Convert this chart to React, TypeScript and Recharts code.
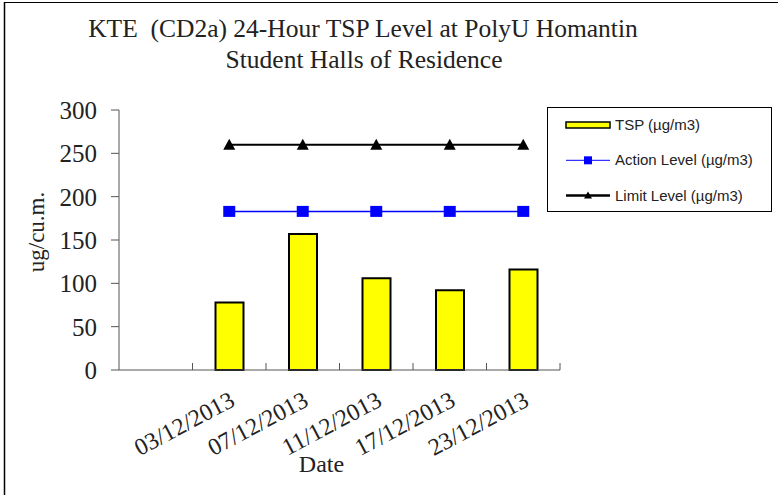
import { Bar, ComposedChart, Legend, Line, XAxis, YAxis } from "recharts";

// first slot is an empty category, as in the source sheet
const dates = ["", "03/12/2013", "07/12/2013", "11/12/2013", "17/12/2013", "23/12/2013"];
const tspValues = [null, 78, 157, 106, 92, 116];
const actionLevels = [null, 183, 183, 183, 183, 183];
const limitLevels = [null, 260, 260, 260, 260, 260];
const yTicks = [0, 50, 100, 150, 200, 250, 300];
const seriesOrder = ["tsp", "action", "limit"];

const data = dates.map((date, i) => ({
  date,
  tsp: tspValues[i],
  action: actionLevels[i],
  limit: limitLevels[i],
}));

const W = 778;
const H = 495;
const margin = { top: 110, right: 218, bottom: 0, left: 0 };
const yAxisWidth = 119;
const plotWidth = W - margin.right - yAxisWidth;

const serif = "'Liberation Serif', 'DejaVu Serif', serif";
const sans = "'Liberation Sans', Arial, sans-serif";
const axisColor = "#555";

function DateTick(props: any) {
  const { x, y, payload } = props;
  const half = plotWidth / dates.length / 2;
  return (
    <g>
      <line x1={x + half} x2={x + half} y1={y} y2={y - 7} stroke={axisColor} />
      <text
        transform={`translate(${x + 7},${y + 35}) rotate(-28)`}
        textAnchor="end"
        fontSize={24}
        fontFamily={serif}
        fill="#222"
      >
        {payload.value}
      </text>
    </g>
  );
}

function YTitle(props: any) {
  const { viewBox } = props;
  const x = viewBox.x + 44;
  const y = viewBox.y + viewBox.height / 2 - 8;
  return (
    <text x={x} y={y} transform={`rotate(-90,${x},${y})`} textAnchor="middle" fontSize={23} fontFamily={serif} fill="#222">
      ug/cu.m.
    </text>
  );
}

function XTitle(props: any) {
  const { viewBox } = props;
  return (
    <text x={viewBox.x + viewBox.width / 2 - 18} y={viewBox.y + 102} textAnchor="middle" fontSize={24} fontFamily={serif} fill="#222">
      Date
    </text>
  );
}

const Square = (props: any) => {
  const { cx, cy } = props;
  if (cx == null || cy == null || props.value == null) return <g />;
  return <rect x={cx - 6} y={cy - 5.5} width={12} height={11} fill="#0000ff" />;
};

const Triangle = (props: any) => {
  const { cx, cy } = props;
  if (cx == null || cy == null || props.value == null) return <g />;
  return <path d={`M${cx},${cy - 6}L${cx + 6},${cy + 5}L${cx - 6},${cy + 5}Z`} fill="#000" />;
};

function LegendBox(props: any) {
  const items = [...(props.payload || [])].sort(
    (a: any, b: any) => seriesOrder.indexOf(a.dataKey) - seriesOrder.indexOf(b.dataKey)
  );
  return (
    <svg width={225} height={105} style={{ display: "block" }}>
      <rect x={0.5} y={0.5} width={224} height={104} fill="#fff" stroke="#000" />
      {items.map((item: any, i: number) => {
        const cy = 18 + i * 35.3;
        return (
          <g key={item.value}>
            {item.dataKey === "tsp" && (
              <rect x={19} y={cy - 3} width={44} height={6} fill="#ffff00" stroke="#000" strokeWidth={1.5} />
            )}
            {item.dataKey === "action" && (
              <>
                <line x1={19} x2={63} y1={cy} y2={cy} stroke="#0000ff" strokeWidth={1} />
                <rect x={37} y={cy - 4} width={8} height={8} fill="#0000ff" />
              </>
            )}
            {item.dataKey === "limit" && (
              <>
                <line x1={19} x2={63} y1={cy} y2={cy} stroke="#000" strokeWidth={2.5} />
                <path d={`M41,${cy - 4}L45,${cy + 3}L37,${cy + 3}Z`} fill="#000" />
              </>
            )}
            <text x={68} y={cy + 5} fontSize={15} fontFamily={sans} fill="#222">
              {item.value}
            </text>
          </g>
        );
      })}
    </svg>
  );
}

export default function App() {
  return (
    <div style={{ position: "absolute", left: 0, top: 0, width: W, height: H, background: "#fff" }}>
      <ComposedChart width={W} height={H} data={data} margin={margin}>
        <XAxis
          dataKey="date"
          height={125}
          stroke={axisColor}
          tickLine={false}
          tickSize={0}
          tickMargin={0}
          interval={0}
          tick={<DateTick />}
          label={<XTitle />}
        />
        <YAxis
          width={yAxisWidth}
          domain={[0, 300]}
          ticks={yTicks}
          stroke={axisColor}
          tickSize={8}
          tickMargin={14}
          tick={{ fontSize: 25, fontFamily: serif, fill: "#222" }}
          label={<YTitle />}
        />
        <Legend
          layout="horizontal"
          verticalAlign="middle"
          align="center"
          content={<LegendBox />}
          wrapperStyle={{ left: 547, top: 107, right: "auto", bottom: "auto", width: 225, height: 105 }}
        />
        <Bar dataKey="tsp" name="TSP (µg/m3)" legendType="rect" barSize={28} fill="#ffff00" stroke="#000" strokeWidth={2} isAnimationActive={false} />
        <Line dataKey="action" name="Action Level (µg/m3)" stroke="#0000ff" strokeWidth={1.5} dot={<Square />} activeDot={false} isAnimationActive={false} />
        <Line dataKey="limit" name="Limit Level (µg/m3)" stroke="#000" strokeWidth={2} dot={<Triangle />} activeDot={false} isAnimationActive={false} />
      </ComposedChart>
      <svg width={W} height={H} style={{ position: "absolute", left: 0, top: 0, pointerEvents: "none" }}>
        <line x1={4.5} x2={4.5} y1={2} y2={H} stroke="#000" strokeWidth={1.5} />
        <line x1={4} x2={W} y1={2.5} y2={2.5} stroke="#000" strokeWidth={1} />
        <g fontSize={25.5} fontFamily={serif} fill="#222" textAnchor="middle">
          <text x={363} y={37}>KTE{"\u00a0\u00a0"}(CD2a) 24-Hour TSP Level at PolyU Homantin</text>
          <text x={364} y={68}>Student Halls of Residence</text>
        </g>
      </svg>
    </div>
  );
}
